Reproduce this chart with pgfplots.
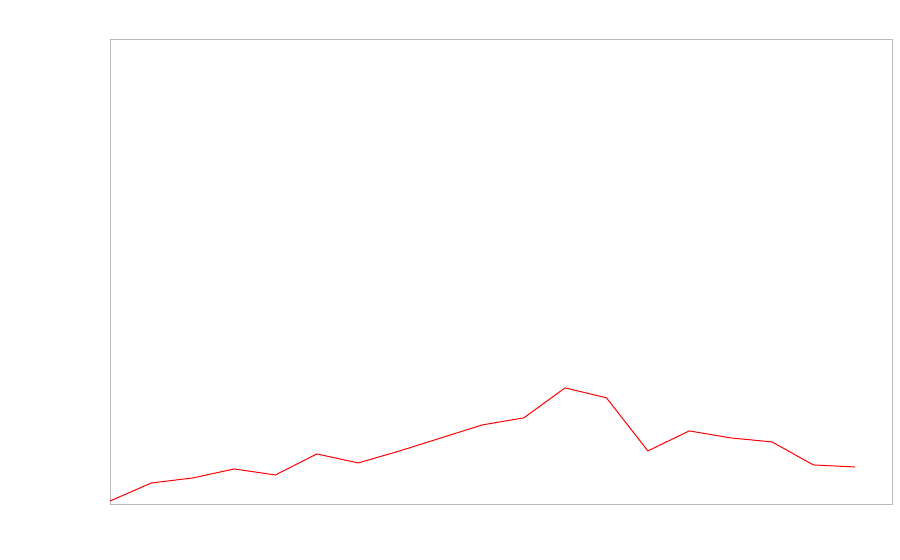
\documentclass[border=0pt]{standalone}
\usepackage{pgfplots}
\pgfplotsset{compat=1.18}
\begin{document}
\begin{tikzpicture}
\fill[white] (0,0) rectangle (675pt,420pt);
\path[use as bounding box] (0,0) rectangle (675pt,420pt);
\begin{axis}[
  at={(82.5pt,42pt)}, anchor=south west,
  scale only axis, width=586.5pt, height=348pt,
  xmin=0, xmax=18.9, ymin=0, ymax=464,
  ticks=none,
  axis line style={draw=black!27, line width=0.6pt},
  clip=true,
]
\addplot[red, line width=0.75pt, mark=none] coordinates {
(0,3) (1,21) (2,26) (3,35) (4,29) (5,50) (6,41) (7,53) (8,66) (9,79)
(10,86) (11,116) (12,106) (13,53) (14,73) (15,66) (16,62) (17,39) (18,37)
};
\end{axis}
\end{tikzpicture}
\end{document}
